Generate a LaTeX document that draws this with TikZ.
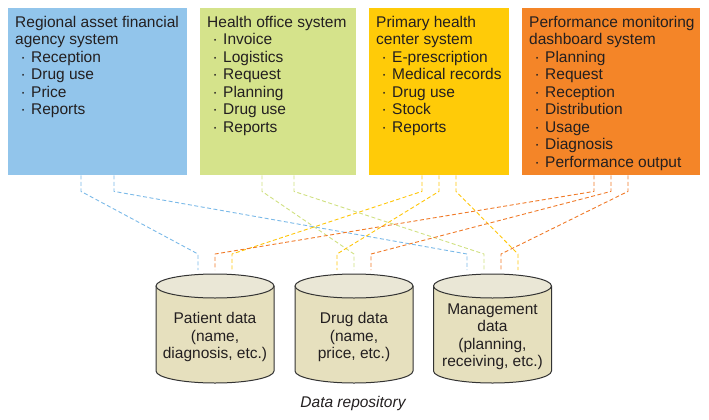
\documentclass[tikz,border=0pt]{standalone}
\usepackage{fontspec}
\setmainfont{Liberation Sans}
\usetikzlibrary{calc}

\definecolor{regblue}{RGB}{146,197,235}
\definecolor{hltgreen}{RGB}{213,227,139}
\definecolor{phcyellow}{RGB}{255,203,8}
\definecolor{dshorange}{RGB}{244,133,40}
\definecolor{bluelink}{RGB}{122,185,232}
\definecolor{greenlink}{RGB}{208,224,128}
\definecolor{yellowlink}{RGB}{255,198,10}
\definecolor{orangelink}{RGB}{240,122,40}
\definecolor{cylside}{RGB}{230,224,190}
\definecolor{cyllid}{RGB}{234,231,214}
\definecolor{inktext}{RGB}{35,31,32}

\newcommand{\dotitem}{\makebox[16pt][c]{\textperiodcentered}}

\tikzset{
  sysbox/.style={anchor=north west, inner sep=0, minimum height=167pt},
  systext/.style={anchor=north west, inner sep=0, align=left, text=inktext,
    font=\fontsize{15.5}{17.5}\selectfont},
  cyltext/.style={inner sep=0, align=center, text=inktext,
    font=\fontsize{15.5}{17.5}\selectfont},
  link/.style={line width=0.9pt, dash pattern=on 4pt off 2.5pt},
}

\begin{document}
\begin{tikzpicture}[x=1pt, y=-1pt, line join=round]
  \useasboundingbox (0,0) rectangle (709,420);

  % system boxes
  \node[sysbox, fill=regblue, minimum width=179pt] (reg) at (8,8) {};
  \node[sysbox, fill=hltgreen, minimum width=156pt] (hlt) at (200,8) {};
  \node[sysbox, fill=phcyellow, minimum width=140pt] (phc) at (369,8) {};
  \node[sysbox, fill=dshorange, minimum width=178pt] (dsh) at (522,8) {};

  \node[systext] (reg-txt) at ($(reg.north west)+(7,8)$)
    {Regional asset financial\\agency system\\\dotitem Reception\\\dotitem Drug use\\
     \dotitem Price\\\dotitem Reports};
  \node[systext] (hlt-txt) at ($(hlt.north west)+(7,8)$)
    {Health office system\\\dotitem Invoice\\\dotitem Logistics\\\dotitem Request\\
     \dotitem Planning\\\dotitem Drug use\\\dotitem Reports};
  \node[systext] (phc-txt) at ($(phc.north west)+(7,8)$)
    {Primary health\\center system\\\dotitem E-prescription\\\dotitem Medical records\\
     \dotitem Drug use\\\dotitem Stock\\\dotitem Reports};
  \node[systext] (dsh-txt) at ($(dsh.north west)+(7,8)$)
    {Performance monitoring\\dashboard system\\\dotitem Planning\\\dotitem Request\\
     \dotitem Reception\\\dotitem Distribution\\\dotitem Usage\\\dotitem Diagnosis\\
     \dotitem Performance output};

  % data stores
  \foreach \n/\cx/\txt in {pat/215/{Patient data\\(name,\\diagnosis, etc.)},
                           drg/354/{Drug data\\(name,\\price, etc.)},
                           mgt/492.5/{Management\\data\\(planning,\\receiving, etc.)}}{
    \draw[fill=cylside, draw=black!80, line width=1pt]
      (\cx-59,286) -- (\cx-59,371) arc[start angle=180, end angle=0, x radius=59, y radius=12]
      -- (\cx+59,286) -- cycle;
    \draw[fill=cyllid, draw=black!80, line width=1pt]
      (\cx,286) ellipse[x radius=59, y radius=12];
    \node[cyltext] (\n) at (\cx,337) {\txt};
    \coordinate (\n-top) at (\cx,270);
  }

  \node[cyltext, font=\fontsize{15.5}{17.5}\selectfont\itshape] (repo) at (353,403) {Data repository};

  % links
  \foreach \src/\sx/\dst/\ex/\col in {reg/73/pat/-17/bluelink, reg/106/mgt/-25.5/bluelink,
      hlt/62/drg/0/greenlink, hlt/94/mgt/-8.5/greenlink,
      phc/53/pat/17/yellowlink, phc/70/drg/-17/yellowlink, phc/87/mgt/25.5/yellowlink,
      dsh/72/pat/0/orangelink, dsh/89/drg/17/orangelink, dsh/106/mgt/8.5/orangelink}
    \draw[link, \col] ($(\src.south west)+(\sx,0)$) -- ++(0,16)
      -- ($(\dst-top)+(\ex,-16)$) -- ($(\dst-top)+(\ex,0)$);
\end{tikzpicture}
\end{document}
